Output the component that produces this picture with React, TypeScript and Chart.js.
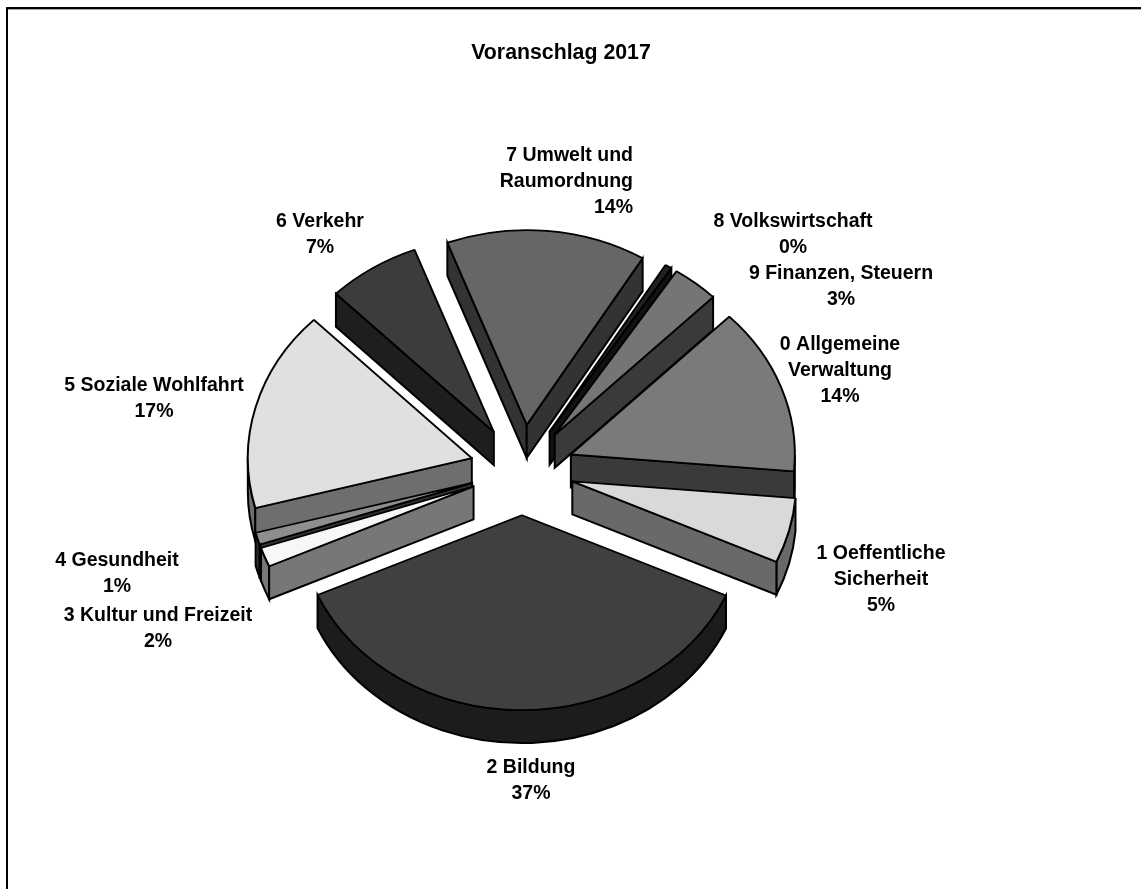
import React, { useEffect, useRef } from "react";
import { Chart, registerables } from "chart.js";

Chart.register(...registerables);

const categories = [
  "0 Allgemeine Verwaltung",
  "1 Oeffentliche Sicherheit",
  "2 Bildung",
  "3 Kultur und Freizeit",
  "4 Gesundheit",
  "5 Soziale Wohlfahrt",
  "6 Verkehr",
  "7 Umwelt und Raumordnung",
  "8 Volkswirtschaft",
  "9 Finanzen, Steuern",
];
const values = [13.9, 5.4, 36.6, 1.6, 1.0, 16.7, 6.7, 14.45, 0.49, 3.36];
const labelLines = [
  ["0 Allgemeine", "Verwaltung"],
  ["1 Oeffentliche", "Sicherheit"],
  ["2 Bildung"],
  ["3 Kultur und Freizeit"],
  ["4 Gesundheit"],
  ["5 Soziale Wohlfahrt"],
  ["6 Verkehr"],
  ["7 Umwelt und", "Raumordnung"],
  ["8 Volkswirtschaft"],
  ["9 Finanzen, Steuern"],
];
const topColors = ["#7a7a7a", "#d9d9d9", "#404040", "#f7f7f7", "#8e8e8e", "#e0e0e0", "#3c3c3c", "#666666", "#222222", "#757575"];
const wallColors = ["#3a3a3a", "#696969", "#1c1c1c", "#777777", "#333333", "#6e6e6e", "#1e1e1e", "#333333", "#111111", "#3a3a3a"];

// label placement relative to the pie centre: x offset, first-line y offset, text alignment
const labelPlacement: [number, number, CanvasTextAlign][] = [
  [318, -125, "center"],
  [359, 84, "center"],
  [9, 298, "center"],
  [-364, 146, "center"],
  [-405, 91, "center"],
  [-368, -84, "center"],
  [-202, -248, "center"],
  [111, -314, "right"],
  [271, -248, "center"],
  [319, -196, "center"],
];

const FRONT_SCALE = 0.87; // vertical squash of the tilted pie
const DEPTH = 33;
const EXPLODE = 52;
const PIE_SHIFT_X = -39; // the pie sits left of the title's centre line
const LINE_GAP = 26;
const TAU = Math.PI * 2;

const pie3d = {
  id: "pie3d",
  beforeDatasetDraw(chart: any) {
    const ctx: CanvasRenderingContext2D = chart.ctx;
    const arcs = chart.getDatasetMeta(0).data;
    const order = arcs
      .map((a: any, i: number) => i)
      .sort((p: number, q: number) => {
        const m = (a: any) => Math.sin((a.startAngle + a.endAngle) / 2);
        return m(arcs[p]) - m(arcs[q]);
      });
    for (const i of order) {
      const a = arcs[i];
      const { x, y, startAngle: s, endAngle: e, outerRadius: r } = a;
      const mid = (s + e) / 2;
      const ox = x + PIE_SHIFT_X + Math.cos(mid) * EXPLODE;
      const oy = y + Math.sin(mid) * EXPLODE * FRONT_SCALE;
      const pt = (t: number) => [ox + r * Math.cos(t), oy + r * FRONT_SCALE * Math.sin(t)];
      const wall = (t: number) => {
        const [px, py] = pt(t);
        ctx.beginPath();
        ctx.moveTo(ox, oy);
        ctx.lineTo(px, py);
        ctx.lineTo(px, py + DEPTH);
        ctx.lineTo(ox, oy + DEPTH);
        ctx.closePath();
        ctx.fill();
        ctx.stroke();
      };
      ctx.save();
      ctx.lineWidth = 2;
      ctx.lineJoin = "miter";
      ctx.strokeStyle = "#000";
      ctx.fillStyle = wallColors[i];
      // outer rim: the part of the arc on the front half
      for (const k of [-1, 0, 1, 2]) {
        const lo = Math.max(s, k * TAU);
        const hi = Math.min(e, k * TAU + Math.PI);
        if (hi > lo) {
          ctx.beginPath();
          ctx.ellipse(ox, oy, r, r * FRONT_SCALE, 0, lo, hi);
          ctx.ellipse(ox, oy + DEPTH, r, r * FRONT_SCALE, 0, hi, lo, true);
          ctx.closePath();
          ctx.fill();
          ctx.stroke();
        }
      }
      if (Math.cos(s) < 0) wall(s);
      if (Math.cos(e) > 0) wall(e);
      ctx.restore();
      // top face: the library's own arc element, squashed and exploded
      ctx.save();
      ctx.translate(ox, oy);
      ctx.scale(1, FRONT_SCALE);
      ctx.translate(-x, -y);
      a.draw(ctx);
      ctx.restore();
    }
    return false;
  },
  afterDraw(chart: any) {
    const ctx: CanvasRenderingContext2D = chart.ctx;
    const arc = chart.getDatasetMeta(0).data[0];
    const total = values.reduce((p, c) => p + c, 0);
    ctx.save();
    ctx.fillStyle = "#000";
    ctx.font = 'bold 19.5px "Liberation Sans", Arial, sans-serif';
    ctx.textBaseline = "middle";
    labelPlacement.forEach(([dx, dy, align], i) => {
      ctx.textAlign = align;
      const lines = [...labelLines[i], `${Math.round((values[i] / total) * 100)}%`];
      lines.forEach((line, n) => {
        ctx.fillText(line, arc.x + PIE_SHIFT_X + dx, arc.y + dy + n * LINE_GAP);
      });
    });
    ctx.restore();
  },
};

export default function App() {
  const ref = useRef<HTMLCanvasElement>(null);
  useEffect(() => {
    const chart = new Chart(ref.current!, {
      type: "pie",
      data: {
        labels: categories,
        datasets: [
          {
            data: values,
            backgroundColor: topColors,
            borderColor: "#000",
            borderWidth: 2,
            borderJoinStyle: "bevel",
            clip: false,
          } as any,
        ],
      },
      options: {
        animation: false,
        responsive: false,
        events: [],
        rotation: 45,
        radius: 224,
        layout: { padding: { bottom: 24 } },
        plugins: {
          legend: { display: false },
          tooltip: { enabled: false },
          title: {
            display: true,
            text: "Voranschlag 2017",
            color: "#000",
            font: { family: '"Liberation Sans", Arial, sans-serif', size: 21.3, weight: "bold" },
            padding: { top: 30.4, bottom: 9 },
          },
        },
      },
      plugins: [pie3d],
    } as any);
    return () => chart.destroy();
  }, []);
  return (
    <div style={{ position: "absolute", left: 6, top: 7, width: 1135, height: 882, overflow: "hidden", boxSizing: "border-box", borderTop: "2px solid #000", borderLeft: "2px solid #000", background: "#fff" }}>
      <div style={{ height: 0, borderTop: "1px solid #aaa" }} />
      <canvas ref={ref} width={1106} height={879} style={{ position: "absolute", left: 0, top: 1, display: "block" }} />
    </div>
  );
}
